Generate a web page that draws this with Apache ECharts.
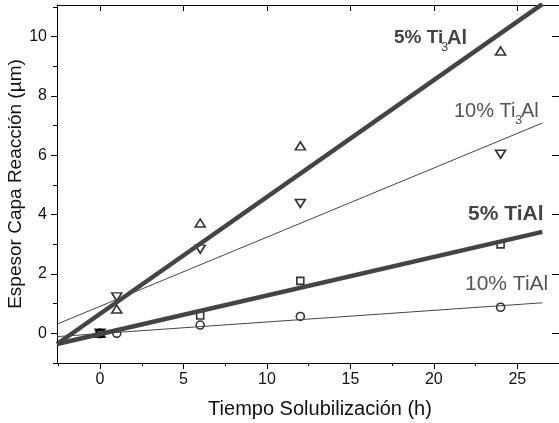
<!DOCTYPE html>
<html>
<head>
<meta charset="utf-8">
<script src="https://cdn.jsdelivr.net/npm/echarts@6/dist/echarts.min.js"></script>
<style>
  html, body { margin: 0; padding: 0; background: #fff; }
  #chart { width: 559px; height: 423px; }
</style>
</head>
<body>
<div id="chart"></div>
<script>
// measured points (hours, µm)
const ti3al5 = [[0, 0], [1, 0.82], [6, 3.72], [12, 6.32], [24, 9.52]];
const ti3al10 = [[0, 0], [1, 1.23], [6, 2.84], [12, 4.38], [24, 6.04]];
const tial5 = [[0, 0], [6, 0.6], [12, 1.77], [24, 3.0]];
const tial10 = [[0, 0], [1, 0], [6, 0.28], [12, 0.57], [24, 0.88]];

// fitted lines, read at both ends
const fitTi3al5 = [[-2.58, -0.36], [26.5, 11.1]];
const fitTi3al10 = [[-2.58, 0.31], [26.5, 7.09]];
const fitTial5 = [[-2.58, -0.36], [26.5, 3.42]];
const fitTial10 = [[-2.58, -0.11], [26.5, 1.03]];

const xMajor = [0, 5, 10, 15, 20, 25];
const xMinor = [-2.5, 2.5, 7.5, 12.5, 17.5, 22.5];
const yMajor = [0, 2, 4, 6, 8, 10];
const yMinor = [-1, 1, 3, 5, 7, 9, 11];

const xRange = [-2.58, 27.5];
const yRange = [-1, 11.07];

const font = "Arial, 'Liberation Sans', sans-serif";
const ink = '#444';

const chart = echarts.init(document.getElementById('chart'));

function axisBase(range, showLine) {
    return {
        type: 'value',
        min: range[0],
        max: range[1],
        splitLine: { show: false },
        axisLine: { show: showLine, onZero: false, lineStyle: { color: '#000', width: 1 } },
    };
}

function scatter(name, data, symbol, size, rotate) {
    return {
        name: name,
        type: 'scatter',
        data: data,
        symbol: symbol,
        symbolSize: size,
        symbolRotate: rotate || 0,
        itemStyle: { color: 'rgba(0,0,0,0)', borderColor: '#000', borderWidth: 1.6 },
        z: 3,
    };
}

function fit(data, width) {
    return {
        type: 'line',
        data: data,
        showSymbol: false,
        silent: true,
        lineStyle: { color: ink, width: width },
        z: 4,
    };
}

const option = {
    animation: false,
    grid: { left: 57, top: 5, right: 0, bottom: 60, containLabel: false, outerBoundsMode: 'none' },
    xAxis: [
        Object.assign(axisBase(xRange, true), {
            position: 'bottom',
            name: 'Tiempo Solubilización (h)',
            nameLocation: 'middle',
            nameGap: 36,
            nameMoveOverlap: false,
            nameTextStyle: { fontFamily: font, fontSize: 20, color: '#111', padding: [0, 0, 0, 24] },
            axisTick: { show: true, inside: false, length: 6, customValues: xMajor, lineStyle: { color: '#000' } },
            axisLabel: { show: true, customValues: xMajor, margin: 9, fontFamily: font, fontSize: 16, color: '#111' },
        }),
        Object.assign(axisBase(xRange, false), {
            position: 'bottom',
            axisTick: { show: true, inside: false, length: 3, customValues: xMinor, lineStyle: { color: '#000' } },
            axisLabel: { show: false },
        }),
        Object.assign(axisBase(xRange, true), {
            position: 'top',
            axisTick: { show: true, inside: true, length: 6, customValues: xMajor, lineStyle: { color: '#000' } },
            axisLabel: { show: false },
        }),
    ],
    yAxis: [
        Object.assign(axisBase(yRange, true), {
            position: 'left',
            name: 'Espesor Capa Reacción (µm)',
            nameLocation: 'middle',
            nameGap: 32,
            nameMoveOverlap: false,
            nameTextStyle: { fontFamily: font, fontSize: 19, color: '#111' },
            axisTick: { show: true, inside: false, length: 6, customValues: yMajor, lineStyle: { color: '#000' } },
            axisLabel: { show: true, customValues: yMajor, margin: 10, fontFamily: font, fontSize: 16, color: '#111' },
        }),
        Object.assign(axisBase(yRange, false), {
            position: 'left',
            axisTick: { show: true, inside: false, length: 4, customValues: yMinor, lineStyle: { color: '#000' } },
            axisLabel: { show: false },
        }),
        Object.assign(axisBase(yRange, true), {
            position: 'right',
            axisTick: { show: true, inside: true, length: 7, customValues: yMajor, lineStyle: { color: '#000' } },
            axisLabel: { show: false },
        }),
    ],
    series: [
        scatter('5% Ti3Al', ti3al5, 'triangle', [10, 8]),
        scatter('10% Ti3Al', ti3al10, 'triangle', [10, 8], 180),
        scatter('5% TiAl', tial5, 'rect', 7),
        scatter('10% TiAl', tial10, 'circle', 8),
        fit(fitTi3al5, 4.5),
        fit(fitTi3al10, 1),
        fit(fitTial5, 4.5),
        fit(fitTial10, 1),
    ],
    graphic: [
        // 5% Ti3Al
        { type: 'text', left: 394, top: 28, z: 10, style: { text: '5% Ti', font: 'bold 19px ' + font, fill: ink } },
        { type: 'text', left: 441, top: 41, z: 10, style: { text: '3', font: '13px ' + font, fill: ink } },
        { type: 'text', left: 447, top: 28, z: 10, style: { text: 'Al', font: 'bold 20px ' + font, fill: ink } },
        // 10% Ti3Al
        { type: 'text', left: 454, top: 101, z: 10, style: { text: '10% Ti', font: '20px ' + font, fill: '#555' } },
        { type: 'text', left: 515, top: 114, z: 10, style: { text: '3', font: '13px ' + font, fill: '#555' } },
        { type: 'text', left: 521, top: 101, z: 10, style: { text: 'Al', font: '20px ' + font, fill: '#555' } },
        // 5% TiAl
        { type: 'text', left: 468, top: 204, z: 10, style: { text: '5% TiAl', font: 'bold 21px ' + font, fill: ink } },
        // 10% TiAl
        { type: 'text', left: 465, top: 274, z: 10, style: { text: '10% TiAl', font: '21px ' + font, fill: '#555' } },
    ],
};

chart.setOption(option);
</script>
</body>
</html>
